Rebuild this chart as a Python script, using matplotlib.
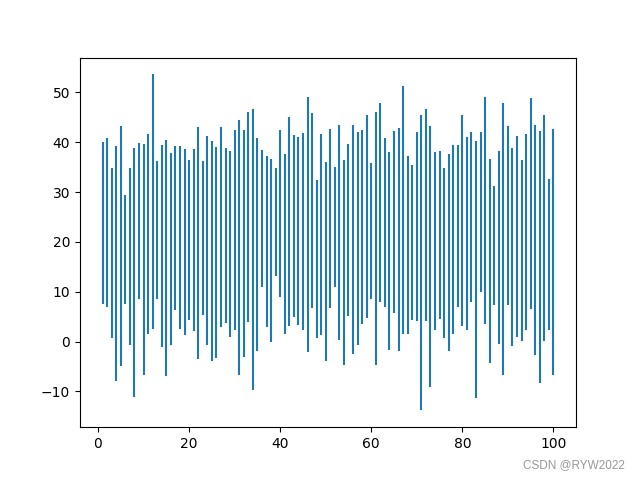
import matplotlib.pyplot as plt

x_values = list(range(1, 101))

# upper end of each vertical line
y_top = [40.0, 40.9, 34.8, 39.3, 43.2, 29.5, 34.9, 38.9, 39.8, 39.6,
         41.6, 53.6, 36.2, 39.4, 40.4, 37.8, 39.2, 39.2, 38.7, 36.4,
         38.6, 43.0, 36.2, 41.2, 40.2, 39.0, 43.0, 38.8, 38.2, 42.5,
         44.4, 42.4, 46.0, 46.6, 40.8, 38.4, 37.2, 36.7, 34.8, 42.4,
         37.6, 45.1, 41.4, 41.0, 41.8, 49.0, 45.8, 32.5, 41.6, 36.0,
         42.6, 35.1, 43.4, 36.4, 39.6, 43.4, 42.0, 42.4, 45.5, 35.8,
         46.0, 47.8, 40.8, 38.0, 42.2, 42.8, 51.3, 37.2, 35.4, 42.0,
         45.4, 46.6, 43.2, 38.0, 38.2, 34.9, 37.6, 39.4, 39.4, 45.5,
         41.1, 42.0, 40.2, 42.0, 49.0, 36.6, 31.3, 38.2, 47.8, 43.2,
         38.8, 41.3, 36.4, 41.6, 48.8, 43.4, 42.2, 45.4, 32.6, 42.6]

# lower end of each vertical line
y_bottom = [7.5, 6.9, 0.8, -7.9, -4.9, 7.5, -0.6, -11.1, 8.5, -6.6,
            1.6, 2.6, 8.6, -1.0, -6.8, -0.7, 6.4, 2.6, 1.3, 4.4,
            2.1, -3.4, 5.3, -0.6, -3.9, -3.2, 3.0, 3.8, 0.9, 2.4,
            -6.7, -3.1, 3.9, -9.8, -1.8, 10.9, 3.0, -0.1, 13.1, 8.9,
            1.6, 3.2, 5.0, 3.4, 2.4, -2.1, 6.7, 0.7, 1.4, -3.8,
            6.7, 10.9, 0.3, -4.6, 5.1, -2.4, -0.7, 3.6, 4.8, 8.6,
            -4.7, 7.9, 6.9, -1.7, 5.7, -1.9, 1.6, 1.6, 4.4, 4.2,
            -13.8, 4.2, -9.1, 2.3, 4.6, 0.8, -1.8, 1.6, 6.9, 3.2,
            2.3, 7.9, -11.4, 9.9, 3.6, -4.2, 7.3, -0.4, -6.6, 7.3,
            -0.8, 1.0, 0.1, 2.4, 6.5, -2.6, -8.4, 0.1, 2.3, -6.7]

fig = plt.figure(figsize=(6.4, 4.8), dpi=100)
plt.vlines(x_values, y_bottom, y_top)

# watermark in the corner
fig.text(0.977, 0.018, 'CSDN @RYW2022', ha='right', va='bottom',
         fontsize=8.5, color='#999999', family='Liberation Sans')

plt.savefig('out.png')
